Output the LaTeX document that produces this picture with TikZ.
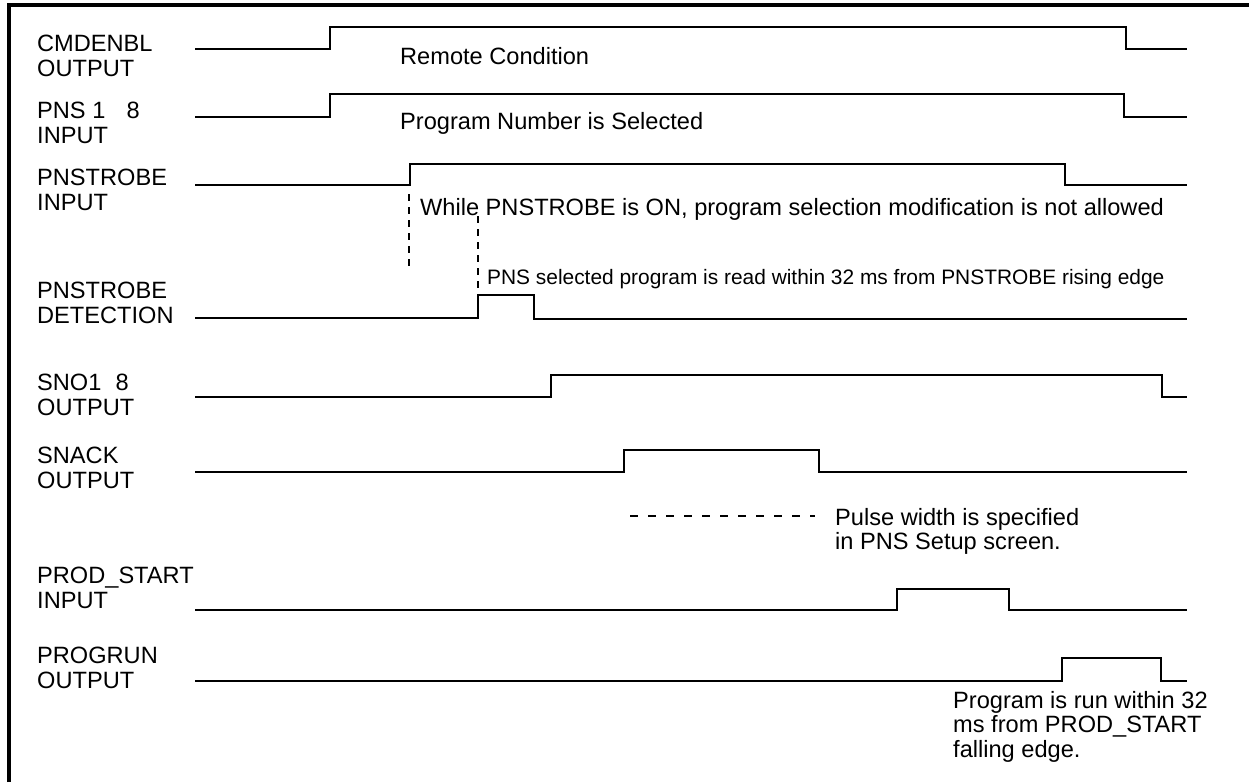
\documentclass[tikz,border=0pt]{standalone}
\usepackage{fontspec}
\setmainfont{Liberation Sans}

\begin{document}
\begin{tikzpicture}[x=1pt, y=-1pt,
        sig/.style={line width=1.6pt},
        lbl/.style={anchor=north west, inner sep=0pt, align=left, font=\fontsize{23.6}{24.5}\selectfont},
        note/.style={anchor=west, inner sep=0pt, align=left, font=\fontsize{23.6}{24.5}\selectfont},
        small/.style={anchor=west, inner sep=0pt, font=\fontsize{20.9}{22}\selectfont},
        guide/.style={line width=1.6pt, dash pattern=on 7pt off 6pt}]
        \useasboundingbox (0,0) rectangle (1249,782);

        % frame
        \draw[line width=3.5pt] (9,782) -- (9,5) -- (1249,5);

        % signal names
        \node[lbl] (cmdenbl) at (37,35) {CMDENBL\\OUTPUT};
        \node[lbl] (pns) at (37,102) {PNS 1\hspace{0.9em}8\\INPUT};
        \node[lbl] (pnstrobe) at (37,169) {PNSTROBE\\INPUT};
        \node[lbl] (detect) at (37,282) {PNSTROBE\\DETECTION};
        \node[lbl] (sno) at (37,374) {SNO1\hspace{0.6em}8\\OUTPUT};
        \node[lbl] (snack) at (37,447) {SNACK\\OUTPUT};
        \node[lbl] (prodstart) at (37,567) {PROD\_START\\INPUT};
        \node[lbl] (progrun) at (37,647) {PROGRUN\\OUTPUT};

        % waveforms
        \draw[sig] (195,49) -- (330,49) -- (330,27) -- (1126,27) -- (1126,49) -- (1187,49);
        \draw[sig] (195,117) -- (330,117) -- (330,94) -- (1124,94) -- (1124,117) -- (1187,117);
        \draw[sig] (195,185) -- (410,185) -- (410,164) -- (1065,164) -- (1065,185) -- (1187,185);
        \draw[sig] (195,318) -- (478,318) -- (478,295) -- (534,295) -- (534,319) -- (1187,319);
        \draw[sig] (195,397) -- (551,397) -- (551,375) -- (1162,375) -- (1162,397) -- (1187,397);
        \draw[sig] (195,472) -- (624,472) -- (624,450) -- (819,450) -- (819,472) -- (1187,472);
        \draw[sig] (195,610) -- (897,610) -- (897,589) -- (1009,589) -- (1009,610) -- (1187,610);
        \draw[sig] (195,681) -- (1062,681) -- (1062,658) -- (1161,658) -- (1161,681) -- (1187,681);

        % notes
        \node[note] (remote) at (400,56) {Remote Condition};
        \node[note] (selected) at (400,123) {Program Number is Selected};
        \node[note] (while) at (420,209) {While PNSTROBE is ON, program selection modification is not allowed};
        \node[small] (read) at (487,279) {PNS selected program is read within 32 ms from PNSTROBE rising edge};
        \node[lbl] (pulse) at (835,508) {Pulse width is specified\\in PNS Setup screen.};
        \node[lbl] (run) at (953,691) {Program is run within 32\\ms from PROD\_START\\falling edge.};

        % dashed guides
        \draw[guide] (409,194) -- (409,272);
        \draw[guide] (478,216) -- (478,295);
        \draw[line width=1.6pt, dash pattern=on 8pt off 10pt] (630,516) -- (815,516);
    \end{tikzpicture}
\end{document}
